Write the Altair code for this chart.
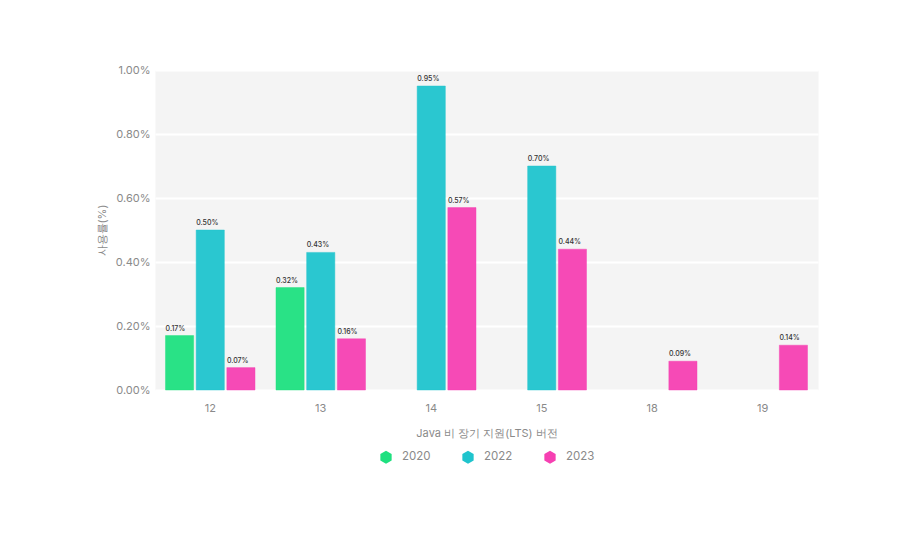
import altair as alt
import pandas as pd

versions = ["12", "13", "14", "15", "18", "19"]
years = ["2020", "2022", "2023"]
v2020 = [0.17, 0.32, None, None, None, None]
v2022 = [0.50, 0.43, 0.95, 0.70, None, None]
v2023 = [0.07, 0.16, 0.57, 0.44, 0.09, 0.14]
colors = ["#1ee07f", "#1fc4cd", "#f640b2"]
y_ticks = [0, 0.2, 0.4, 0.6, 0.8, 1.0]

rows = []
for yr, vals in zip(years, [v2020, v2022, v2023]):
    for ver, v in zip(versions, vals):
        if v is not None:
            rows.append({"version": ver, "year": yr, "value": v, "label": f"{v:.2f}%"})
df = pd.DataFrame(rows)

FONT = "Inter"
hexagon = "M0,-1L0.866,-0.5L0.866,0.5L0,1L-0.866,0.5L-0.866,-0.5Z"
GREY = "#8a8a8a"

x = alt.X("version:N", sort=versions,
          scale=alt.Scale(paddingInner=0.19, paddingOuter=0.095),
          axis=alt.Axis(title="Java 비 장기 지원(LTS) 버전", labelAngle=0, domain=False, ticks=False,
                        labelPadding=12, titlePadding=14, labelFontSize=11, titleFontSize=11,
                        labelColor=GREY, titleColor=GREY, titleFontWeight="normal",
                        labelFont=FONT, titleFont=FONT))
xo = alt.XOffset("year:N", sort=years, scale=alt.Scale(domain=years, paddingInner=0.082, paddingOuter=0))

base = alt.Chart(df)

bars = base.mark_bar(fillOpacity=0.95, strokeWidth=1, strokeOpacity=0.45).encode(
    x=x,
    xOffset=xo,
    y=alt.Y("value:Q", scale=alt.Scale(domain=[0, 1.0], nice=False),
            axis=alt.Axis(title="사용률(%)", values=y_ticks,
                          labelExpr="format(datum.value, '.2f') + '%'",
                          domain=False, ticks=False, gridColor="#ffffff", gridWidth=2,
                          labelPadding=5, titlePadding=8, labelFontSize=11, titleFontSize=11,
                          labelColor=GREY, titleColor=GREY, titleFontWeight="normal",
                          labelFont=FONT, titleFont=FONT)),
    color=alt.Color("year:N", sort=years, scale=alt.Scale(domain=years, range=colors),
                    legend=alt.Legend(title=None, orient="none", direction="horizontal",
                                      legendX=224, legendY=380, symbolType=hexagon,
                                      symbolSize=170, symbolOpacity=1, symbolStrokeWidth=0,
                                      labelFontSize=11.5, labelColor=GREY, labelFont=FONT,
                                      labelOffset=9, columnPadding=30)),
    stroke=alt.Color("year:N", sort=years, scale=alt.Scale(domain=years, range=colors), legend=None),
)

labels = base.mark_text(align="left", baseline="bottom", dx=-14, dy=-4, fontSize=7,
                        fontWeight=500, color="#333333", font=FONT).encode(
    x=x, xOffset=xo, y="value:Q", text="label:N"
)

chart = (bars + labels).properties(
    width=663, height=320,
    autosize=alt.AutoSizeParams(type="none"),
    padding={"left": 147, "top": 62, "right": 74, "bottom": 100},
    view=alt.ViewBackground(fill="#f4f4f4", stroke="transparent"),
).configure(background="#ffffff")

chart.save("out.html", embed_options={"renderer": "svg", "actions": False})
